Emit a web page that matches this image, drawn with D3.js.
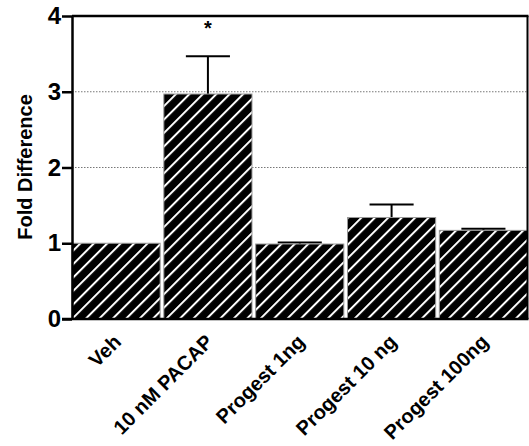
<!DOCTYPE html>
<html>
<head>
<meta charset="utf-8">
<script src="https://cdn.jsdelivr.net/npm/d3@7"></script>
<style>
  body { margin: 0; background: #fff; }
  svg { display: block; font-family: 'Liberation Sans', Arial, sans-serif; }
</style>
</head>
<body>
<div id="chart"></div>
<script>
let groups = ['Veh', '10 nM PACAP', 'Progest 1ng', 'Progest 10 ng', 'Progest 100ng'];
let foldValues = [1.0, 2.97, 0.99, 1.34, 1.17];
let semValues = [0, 0.50, 0.02, 0.17, 0.02];
let yTicks = [0, 1, 2, 3, 4];
let gridValues = [2, 3];
let starGroups = ['10 nM PACAP'];

let width = 529, height = 446;
let plotLeft = 72, plotRight = 527.5, plotTop = 16, plotBottom = 319;

let svg = d3.select('#chart').append('svg')
    .attr('width', width)
    .attr('height', height);

// hatch fill: black with white "/" stripes
let pattern = svg.append('defs').append('pattern')
    .attr('id', 'hatch')
    .attr('patternUnits', 'userSpaceOnUse')
    .attr('width', 9.5)
    .attr('height', 9.5)
    .attr('patternTransform', 'rotate(45)');
pattern.append('rect')
    .attr('width', 9.5)
    .attr('height', 9.5)
    .attr('fill', '#000');
pattern.append('rect')
    .attr('x', 0)
    .attr('width', 2)
    .attr('height', 9.5)
    .attr('fill', '#fff');

let xScale = d3.scaleBand().domain(groups).range([plotLeft, plotRight]).paddingInner(0.04).paddingOuter(0);
let yScale = d3.scaleLinear().domain([0, 4]).range([plotBottom, plotTop]);

// dotted grid lines
svg.append('g').selectAll('line')
    .data(gridValues)
    .enter()
    .append('line')
    .attr('x1', plotLeft)
    .attr('x2', plotRight)
    .attr('y1', d => yScale(d))
    .attr('y2', d => yScale(d))
    .attr('stroke', '#777')
    .attr('stroke-width', 1)
    .attr('stroke-dasharray', '1.5,1.5');

// error bars (upper only)
let errG = svg.append('g').attr('stroke', '#000').attr('stroke-width', 2);
groups.forEach((g, i) => {
    if (semValues[i] <= 0) return;
    let cx = xScale(g) + xScale.bandwidth() / 2;
    let yTop = yScale(foldValues[i] + semValues[i]);
    errG.append('line')
        .attr('x1', cx).attr('x2', cx)
        .attr('y1', yScale(foldValues[i])).attr('y2', yTop);
    errG.append('line')
        .attr('x1', cx - xScale.bandwidth() / 4).attr('x2', cx + xScale.bandwidth() / 4)
        .attr('y1', yTop).attr('y2', yTop);
});

// bars
svg.append('g').selectAll('rect')
    .data(groups)
    .enter()
    .append('rect')
    .attr('x', d => xScale(d))
    .attr('width', xScale.bandwidth())
    .attr('y', (d, i) => yScale(foldValues[i]))
    .attr('height', (d, i) => plotBottom - yScale(foldValues[i]))
    .attr('fill', 'url(#hatch)')
    .attr('stroke', '#999')
    .attr('stroke-width', 1);

// significance stars
svg.append('g').selectAll('text')
    .data(starGroups)
    .enter()
    .append('text')
    .attr('x', d => xScale(d) + xScale.bandwidth() / 2)
    .attr('y', 35)
    .attr('text-anchor', 'middle')
    .attr('font-size', 20)
    .attr('font-weight', 'bold')
    .text('*');

// frame (top and right)
svg.append('line')
    .attr('x1', plotLeft).attr('x2', plotRight + 1)
    .attr('y1', plotTop).attr('y2', plotTop)
    .attr('stroke', '#000').attr('stroke-width', 2.5);
svg.append('line')
    .attr('x1', plotRight).attr('x2', plotRight)
    .attr('y1', plotTop).attr('y2', plotBottom)
    .attr('stroke', '#000').attr('stroke-width', 2);

// y axis
let yAxis = svg.append('g')
    .attr('transform', 'translate(' + plotLeft + ',0)')
    .call(d3.axisLeft(yScale).tickValues(yTicks).tickFormat(d3.format('d')).tickSize(10).tickSizeOuter(0).tickPadding(1));
yAxis.select('.domain').attr('stroke-width', 2.5);
yAxis.selectAll('.tick line').attr('stroke-width', 2.5);
yAxis.selectAll('text')
    .attr('font-size', 24)
    .attr('font-weight', 'bold')
    .attr('font-family', "'Liberation Sans', Arial, sans-serif")
    .attr('fill', '#000');

// x axis
let xAxis = svg.append('g')
    .attr('transform', 'translate(0,' + plotBottom + ')')
    .call(d3.axisBottom(xScale).tickSize(0).tickSizeOuter(0));
xAxis.select('.domain').attr('stroke-width', 2.5).attr('d', 'M' + (plotLeft - 10) + ',0H' + (plotRight + 1));
xAxis.selectAll('text')
    .attr('text-anchor', 'end')
    .attr('transform', 'translate(-4,14) rotate(-45)')
    .attr('y', 0)
    .attr('dy', '0.72em')
    .attr('font-size', 20)
    .attr('font-weight', 'bold')
    .attr('font-family', "'Liberation Sans', Arial, sans-serif")
    .attr('fill', '#000');

// y label
svg.append('text')
    .attr('transform', 'translate(32,167) rotate(-90)')
    .attr('text-anchor', 'middle')
    .attr('font-size', 20)
    .attr('font-weight', 'bold')
    .text('Fold Difference');
</script>
</body>
</html>
